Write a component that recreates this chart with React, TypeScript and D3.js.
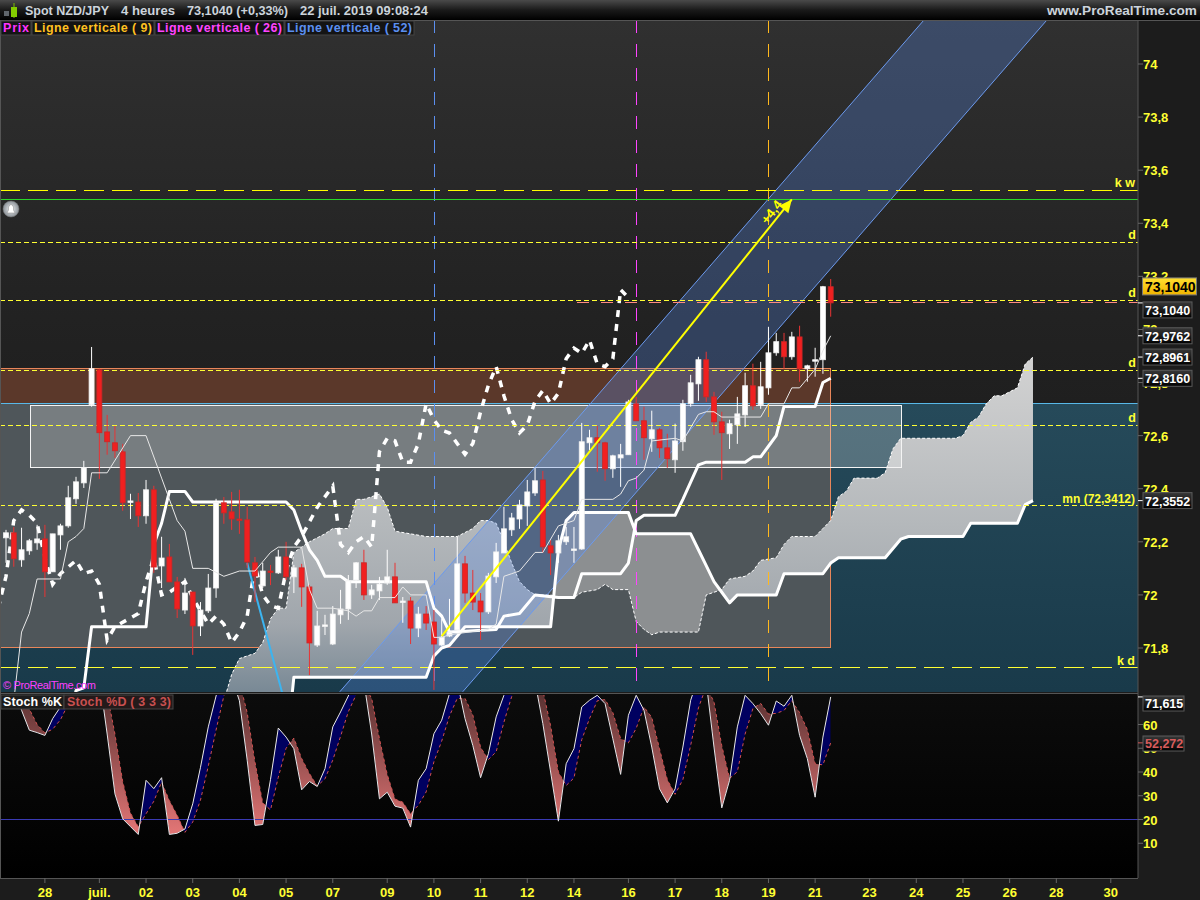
import React from "react";
import * as d3 from "d3";

// 4h candles
const highs = [72.245,72.256,72.253,72.211,72.264,72.264,72.23,72.268,72.411,72.445,72.505,72.934,72.852,72.678,72.637,72.569,72.381,72.384,72.433,72.411,72.219,72.192,72.068,72.064,72.011,71.973,72.079,72.362,72.369,72.388,72.396,72.332,72.143,72.121,72.113,72.17,72.2,72.113,72.117,72.038,71.94,71.925,71.958,72.019,72.075,72.124,72.17,72.038,72.068,72.17,72.121,71.992,71.992,71.955,71.958,71.943,71.909,71.985,72.219,72.147,72.094,72.007,72.083,72.196,72.332,72.309,72.358,72.433,72.479,72.467,72.207,72.226,72.256,72.256,72.648,72.622,72.637,72.577,72.528,72.569,72.735,72.746,72.709,72.694,72.629,72.607,72.645,72.735,72.829,72.897,72.916,72.765,72.69,72.66,72.746,72.837,72.871,72.878,73.01,72.987,72.987,72.991,73.014,72.867,72.931,73.164,73.19];
const lows = [72.121,72.106,72.106,72.151,72.17,71.992,72.087,72.17,72.253,72.343,72.403,72.709,72.437,72.528,72.516,72.317,72.286,72.256,72.268,72.083,72.026,72.049,71.913,71.928,71.774,71.845,71.932,71.989,72.268,72.245,72.23,72.102,71.973,72.026,72.037,72.079,72.056,72.007,71.955,71.698,71.804,71.849,71.811,71.891,71.906,72.026,71.981,71.985,71.981,72.038,71.97,71.895,71.815,71.841,71.868,71.642,71.808,71.841,71.86,71.97,71.943,71.83,71.928,72.045,72.158,72.222,72.249,72.26,72.373,72.158,72.075,72.121,72.188,72.121,72.17,72.546,72.464,72.43,72.441,72.407,72.528,72.656,72.509,72.539,72.516,72.479,72.46,72.543,72.709,72.731,72.727,72.603,72.433,72.55,72.569,72.633,72.697,72.701,72.754,72.901,72.852,72.886,72.803,72.803,72.822,72.833,73.048];
const opens = [72.215,72.234,72.132,72.166,72.196,72.211,72.087,72.226,72.26,72.362,72.422,72.716,72.848,72.614,72.573,72.539,72.35,72.35,72.298,72.396,72.109,72.143,72.049,71.943,72.011,71.883,71.94,72.026,72.347,72.313,72.286,72.283,72.121,72.034,72.09,72.083,72.143,72.068,72.102,72.03,71.811,71.883,71.815,71.925,71.947,72.056,72.121,72,72.015,72.045,72.068,71.973,71.977,71.875,71.928,71.898,71.811,71.845,71.868,72.117,72.007,71.977,71.936,72.068,72.158,72.245,72.286,72.335,72.384,72.433,72.185,72.158,72.2,72.17,72.173,72.573,72.592,72.573,72.475,72.516,72.528,72.72,72.656,72.588,72.622,72.554,72.509,72.577,72.72,72.795,72.886,72.746,72.652,72.607,72.641,72.678,72.788,72.716,72.78,72.912,72.954,72.897,72.972,72.852,72.882,72.886,73.161];
const closes = [72.234,72.136,72.17,72.204,72.211,72.087,72.23,72.26,72.366,72.426,72.479,72.852,72.611,72.577,72.543,72.347,72.354,72.298,72.396,72.105,72.139,72.049,71.947,72.007,71.883,71.943,72.026,72.347,72.309,72.286,72.283,72.124,72.071,72.09,72.087,72.143,72.068,72.102,72.03,71.819,71.883,71.887,71.928,71.947,72.053,72.121,72,72.019,72.041,72.068,71.97,71.977,71.875,71.928,71.894,71.815,71.841,71.86,72.117,72.007,71.973,71.936,72.071,72.162,72.249,72.29,72.339,72.388,72.43,72.181,72.158,72.204,72.219,72.173,72.577,72.592,72.573,72.475,72.524,72.528,72.727,72.656,72.592,72.622,72.554,72.513,72.58,72.72,72.799,72.886,72.746,72.652,72.611,72.645,72.682,72.788,72.712,72.784,72.912,72.954,72.897,72.972,72.852,72.863,72.886,73.161,73.1];

// ichimoku lines as [bar, price] vertices
const tenkan: [number, number][] = [[1,71.6],[2,71.86],[3,71.93],[4,72.06],[7,72.06],[8,72.2],[9,72.22],[10,72.25],[11,72.46],[13,72.46],[16,72.6],[18,72.6],[20,72.44],[22,72.28],[23,72.24],[24,72.1],[26,72.1],[28,72.07],[30,72.09],[32,72.09],[34,72.16],[35,72.18],[37,72.18],[38,72.18],[39,72.02],[40,71.95],[42,71.95],[44,71.94],[45,71.92],[46,71.94],[47,71.94],[48,71.99],[50,71.99],[51,72.03],[52,72],[54,72],[55,71.84],[56,71.84],[57,71.85],[62,71.87],[63,71.89],[64,72.07],[65,72.08],[66,72.09],[68,72.16],[69,72.16],[71,72.26],[73,72.28],[74,72.36],[78,72.36],[79,72.38],[80,72.43],[81,72.44],[82,72.47],[83,72.58],[86,72.59],[87,72.58],[89,72.68],[90,72.69],[91,72.69],[92,72.67],[97,72.67],[98,72.72],[100,72.72],[101,72.78],[102,72.78],[104,72.85],[105,72.92],[106,72.976]];
const kijun: [number, number][] = [[8,71.5],[9,71.64],[10,71.65],[11,71.88],[18,71.88],[19,72.19],[20,72.27],[21,72.39],[23,72.39],[24,72.35],[36,72.35],[37,72.32],[38,72.24],[39,72.17],[40,72.13],[41,72.07],[43,72.07],[44,72.05],[54,72.05],[55,71.95],[56,71.92],[57,71.86],[63,71.87],[64,71.92],[66,71.93],[68,72],[71,71.99],[73,71.99],[74,72.08],[79,72.08],[80,72.12],[81,72.28],[82,72.3],[86,72.3],[87,72.36],[89,72.49],[90,72.5],[95,72.5],[96,72.52],[97,72.52],[98,72.56],[99,72.6],[100,72.71],[104,72.71],[105,72.8],[106,72.816]];
const senkouA: [number, number][] = [[28,71.6],[29,71.7],[30,71.76],[32,71.78],[33,71.82],[34,71.91],[35,71.95],[36,71.95],[37,72.16],[38,72.18],[39,72.2],[41,72.23],[42,72.25],[44,72.25],[45,72.36],[46,72.36],[47,72.37],[48,72.38],[49,72.33],[50,72.24],[52,72.23],[54,72.22],[58,72.22],[60,72.25],[61,72.28],[62,72.28],[63,72.27],[64,72.2],[65,72.12],[66,72.05],[67,72.02],[68,72],[70,72],[71,71.99],[73,71.99],[74,72.01],[76,72.02],[77,72.04],[78,72.02],[80,72.02],[81,71.9],[82,71.87],[83,71.85],[84,71.86],[89,71.86],[90,72],[91,72.01],[92,72.02],[93,72.06],[95,72.07],[96,72.09],[97,72.13],[99,72.14],[100,72.19],[101,72.22],[104,72.22],[105,72.25],[106,72.28],[107,72.37],[108,72.39],[109,72.44],[112,72.44],[113,72.46],[114,72.55],[115,72.59],[122,72.59],[123,72.6],[124,72.65],[125,72.67],[126,72.72],[127,72.75],[128,72.75],[130,72.78],[131,72.87],[132,72.896]];
const senkouB: [number, number][] = [[28,71.3],[36,71.4],[37,71.69],[54,71.69],[55,71.77],[56,71.8],[57,71.81],[59,71.88],[70,71.88],[71,72.17],[72,72.28],[73,72.31],[80,72.31],[81,72.23],[88,72.23],[89,72.17],[90,72.11],[91,72.05],[92,72.01],[93,71.97],[94,72],[99,72],[100,72.08],[105,72.08],[106,72.12],[107,72.14],[113,72.14],[115,72.21],[116,72.22],[123,72.22],[124,72.27],[130,72.27],[131,72.34],[132,72.355]];
const chikou: [number, number][] = [[-1,71.95],[0,72.07],[1,72.28],[2,72.32],[3,72.3],[4,72.27],[5,72.14],[6,72.04],[7,72.08],[9,72.13],[10,72.08],[11,72.09],[12,72.04],[13,71.83],[14,71.88],[17,71.93],[18,72.05],[19,72.14],[20,72],[21,72.01],[23,72.05],[24,71.99],[26,71.89],[27,71.92],[28,71.89],[29,71.82],[30,71.86],[31,71.92],[32,72.11],[33,72],[34,71.96],[35,71.95],[36,72.09],[37,72.18],[38,72.22],[40,72.33],[42,72.41],[43,72.19],[44,72.16],[45,72.2],[46,72.22],[47,72.18],[48,72.54],[49,72.59],[50,72.58],[51,72.5],[52,72.5],[53,72.57],[54,72.72],[55,72.66],[56,72.62],[57,72.61],[59,72.53],[60,72.57],[61,72.69],[62,72.79],[63,72.86],[64,72.75],[65,72.66],[66,72.61],[67,72.64],[68,72.73],[69,72.77],[70,72.72],[71,72.76],[72,72.89],[73,72.93],[74,72.91],[75,72.96],[76,72.87],[77,72.86],[78,72.89],[79,73.15],[80,73.12]];

// drawn objects, in bar/price
const trendBlue: [number, number][] = [[31,72.12],[35.6,71.62]];
const channelUpper: [number, number][] = [[42.9,71.635],[118,74.166]];
const channelLower: [number, number][] = [[58.7,71.635],[133.8,74.166]];
const arrow: [number, number][] = [[56,71.845],[101,73.49]];
const vLines = [{ bar: 55, color: "#5b8ff0" }, { bar: 81, color: "#ff44ff" }, { bar: 98, color: "#ffb81c" }];
const dLevels = [73.3276, 73.1091, 72.8454, 72.6382];
const mnLevel = 72.3368;
const kwLevel = 73.5235;
const kdLevel = 71.7265;
const greenLevel = 73.4895;
const priceLine = 73.1015;
const brownTop = 72.853;
const tealTop = 72.7211;
const boxBottom = 71.802;
const whiteTop = 72.7135;
const whiteBottom = 72.48;

// stochastic panel, one value per bar
const stochK = [80,76,66,57.6,56.6,55.4,62.5,67.4,76,78,80,82,80,56,30.8,20.3,17,13.7,36.5,33,37.6,13.7,14.2,16,26.6,42,59,72,85,80,70,45,17.5,17.9,36.9,58.5,54.7,49.8,32.5,36,33.9,41.4,59,65.3,72,80,78,56,28.7,31.5,25.6,24.8,16.8,36.5,41.4,56.1,61.8,73,78,62.5,51.2,37.6,47.7,63.2,72.3,80,85,85,78,60.4,40,19.3,43.5,49.8,67.4,70.2,72.3,68.8,54,39,63.9,72.3,66,50.5,32.9,27,32.9,50.5,70.2,80,78,50.5,24.9,36.5,59,72.3,68.8,64.6,59.7,69.9,67.7,72.3,55.4,45.6,29.4,54.7,71.615];
const stochD = [78,78,74,66.5,60,56.5,58,62,68.6,73.8,78,80,81,73,56,36,22.7,17,22.4,27.7,35.7,28,21.8,14.6,18.9,28.2,42.5,57.7,72,79,78,65,44.2,27,24,37.8,50,54.3,45.7,39.4,34.1,37.1,45,55,65.4,72.5,76.7,71,54,39,28.6,27.3,22.4,26,31.6,44.3,53,63.6,71,71,64,50.4,45.2,48.5,61,71.8,79,83,82.7,74.5,59.5,40,34.3,37.5,53.6,62.5,70,70.5,65,54,52.3,58.4,67.4,63,49.8,36.8,30.6,36.8,51.2,67,76,69.5,51.1,37.3,40.1,56,66.7,68.9,64.4,64.7,65.9,70,65,57.8,43.5,43,52.272];

const priceTicks = [74,73.8,73.6,73.4,73.2,73,72.8,72.6,72.4,72.2,72,71.8];
const stochTicks = [60,50,40,30,20,10];
const dateTicks: [number, string][] = [[5,"28"],[12,"juil."],[18,"02"],[24,"03"],[30,"04"],[36,"05"],[42,"07"],[49,"09"],[55,"10"],[61,"11"],[67,"12"],[73,"14"],[80,"16"],[86,"17"],[92,"18"],[98,"19"],[104,"21"],[111,"23"],[117,"24"],[123,"25"],[129,"26"],[135,"28"],[142,"30"]];
const priceBoxes: [number, string, number][] = [[73.1,"73,1040",7],[72.9762,"72,9762",0],[72.8961,"72,8961",0],[72.816,"72,8160",0],[72.3552,"72,3552",0]];

const W = 1200;
const panelR = 1138;
const top = 20;
const bottom = 692;
const sTop = 695;
const sBottom = 878;

const x = d3.scaleLinear().domain([0, 106]).range([6, 830.7]);
const y = d3.scaleLinear().domain([74, 71.8]).range([64, 648]);
const ys = d3.scaleLinear().domain([60, 20]).range([724.5, 819.5]);

const FONT = "'Liberation Sans', Arial, sans-serif";
const YEL = "#ffff33";

const pline = d3.line<[number, number]>().x((d) => x(d[0])).y((d) => y(d[1]));
const comma = (v: number) => String(v).replace(".", ",");

const bars = d3.range(stochK.length);
const kLine = d3.line<number>().x((i) => x(i)).y((i) => ys(stochK[i]));
const dLine = d3.line<number>().x((i) => x(i)).y((i) => ys(stochD[i]));
const kdArea = d3.area<number>().x((i) => x(i)).y0((i) => ys(stochK[i])).y1((i) => ys(stochD[i]));
const aboveK = d3.area<number>().x((i) => x(i)).y0((i) => ys(stochK[i])).y1(0);
const belowK = d3.area<number>().x((i) => x(i)).y0((i) => ys(stochK[i])).y1(900);
// the cloud is darker where span A runs under span B
const aboveA = d3.area<[number, number]>().x((d) => x(d[0])).y0((d) => y(d[1])).y1(0);

const cloudPath = pline([...senkouA, ...[...senkouB].reverse()]) + "Z";
const channelPath = pline([channelUpper[0], channelUpper[1], channelLower[1], channelLower[0]]) + "Z";

const ax = x(arrow[1][0]);
const ay = y(arrow[1][1]);
const ang = Math.atan2(y(arrow[1][1]) - y(arrow[0][1]), x(arrow[1][0]) - x(arrow[0][0]));
const arrowHead = d3.range(3).map((k) => {
  const back = k === 1 ? 0 : 13;
  const side = k === 0 ? 6 : k === 2 ? -6 : 0;
  return [ax - back * Math.cos(ang) - side * Math.sin(ang), ay - back * Math.sin(ang) + side * Math.cos(ang)].join(",");
}).join(" ");

const App = () => {
  return (
    <svg width={W} height={900} style={{ position: "absolute", left: 0, top: 0, display: "block" }} fontFamily={FONT}>
      <style>{`body{margin:0;background:#1c1c1c}`}</style>
      <defs>
        <linearGradient id="bg" x1="0" y1="0" x2="0" y2="1">
          <stop offset="0" stopColor="#303030" />
          <stop offset="0.4" stopColor="#232323" />
          <stop offset="0.7" stopColor="#1c1c1c" />
          <stop offset="1" stopColor="#1c1c1c" />
        </linearGradient>
        <linearGradient id="head" x1="0" y1="0" x2="0" y2="1">
          <stop offset="0" stopColor="#4a4a4a" />
          <stop offset="0.5" stopColor="#1a1a1a" />
          <stop offset="1" stopColor="#000" />
        </linearGradient>
        <linearGradient id="teal" x1="0" y1="0" x2="0" y2="1">
          <stop offset="0" stopColor="#264a5a" />
          <stop offset="1" stopColor="#193a4a" />
        </linearGradient>
        <linearGradient id="cloud" gradientUnits="userSpaceOnUse" x1="0" y1="360" x2="0" y2="690">
          <stop offset="0" stopColor="#d2d2d2" />
          <stop offset="0.5" stopColor="#b4b8bb" />
          <stop offset="0.8" stopColor="#a0a6ac" />
          <stop offset="1" stopColor="#7a8a96" />
        </linearGradient>
        <linearGradient id="redfill" gradientUnits="userSpaceOnUse" x1="0" y1="695" x2="0" y2="830">
          <stop offset="0" stopColor="#5a3232" />
          <stop offset="1" stopColor="#e07474" />
        </linearGradient>
        <linearGradient id="yellowbox" x1="0" y1="0" x2="0" y2="1">
          <stop offset="0" stopColor="#ffe030" />
          <stop offset="1" stopColor="#f0b400" />
        </linearGradient>
        <linearGradient id="darkbox" x1="0" y1="0" x2="0" y2="1">
          <stop offset="0" stopColor="#383838" />
          <stop offset="1" stopColor="#000" />
        </linearGradient>
        <linearGradient id="stochbg" x1="0" y1="0" x2="0" y2="1">
          <stop offset="0" stopColor="#0c0c0c" />
          <stop offset="1" stopColor="#000" />
        </linearGradient>
        <radialGradient id="bell">
          <stop offset="0" stopColor="#f2f4f6" />
          <stop offset="1" stopColor="#8a9096" />
        </radialGradient>
        <clipPath id="main"><rect x={0} y={top} width={panelR} height={bottom - top} /></clipPath>
        <clipPath id="stoch"><rect x={0} y={sTop} width={panelR} height={sBottom - sTop} /></clipPath>
        <clipPath id="aboveK"><path d={aboveK(bars) ?? ""} /></clipPath>
        <clipPath id="belowK"><path d={belowK(bars) ?? ""} /></clipPath>
        <clipPath id="aboveA"><path d={aboveA(senkouA) ?? ""} /></clipPath>
      </defs>

      <rect width={W} height={900} fill="#1c1c1c" />

      {/* price panel */}
      <g clipPath="url(#main)">
        <rect x={0} y={top} width={panelR} height={bottom - top} fill="url(#bg)" />
        <rect x={0} y={y(tealTop)} width={panelR} height={bottom - y(tealTop)} fill="url(#teal)" />
        <rect x={0} y={y(brownTop)} width={x(106)} height={y(tealTop) - y(brownTop)} fill="#5b382a" />
        <rect x={0} y={y(tealTop)} width={x(106)} height={y(boxBottom) - y(tealTop)} fill="#4f565a" />
        <line x1={0} x2={panelR} y1={y(tealTop)} y2={y(tealTop)} stroke="#58b8e8" strokeWidth={1} shapeRendering="crispEdges" />
        <path d={`M0,${y(brownTop)}H${x(106)}V${y(boxBottom)}H0`} fill="none" stroke="#e8865a" strokeWidth={1} shapeRendering="crispEdges" />

        <path d={cloudPath} fill="url(#cloud)" />
        <path d={cloudPath} fill="#8c8f91" clipPath="url(#aboveA)" />
        <path d={pline(senkouA) ?? ""} fill="none" stroke="#fff" strokeWidth={1} strokeDasharray="3 2" />

        <rect x={30} y={y(whiteTop)} width={871} height={y(whiteBottom) - y(whiteTop)} fill="#fff" fillOpacity={0.23} stroke="#f4f4f4" strokeWidth={1} shapeRendering="crispEdges" />

        <path d={channelPath} fill="#5a8ae8" fillOpacity={0.3} />
        <path d={pline(channelUpper) ?? ""} stroke="#6c9aee" strokeWidth={1} fill="none" />
        <path d={pline(channelLower) ?? ""} stroke="#6c9aee" strokeWidth={1} fill="none" />

        {vLines.map((v) => (
          <line key={v.bar} x1={x(v.bar) + 0.5} x2={x(v.bar) + 0.5} y1={top} y2={bottom} stroke={v.color} strokeWidth={1} strokeDasharray="12.5 11.5" shapeRendering="crispEdges" />
        ))}

        <line x1={0} x2={panelR} y1={y(kwLevel)} y2={y(kwLevel)} stroke="#ffff00" strokeDasharray="20 8" shapeRendering="crispEdges" />
        <line x1={0} x2={panelR} y1={y(greenLevel)} y2={y(greenLevel)} stroke="#28d828" shapeRendering="crispEdges" />
        <line x1={0} x2={panelR} y1={y(kdLevel)} y2={y(kdLevel)} stroke="#ffff33" strokeDasharray="20 8" shapeRendering="crispEdges" />
        <line x1={x(73.4)} x2={panelR} y1={y(priceLine)} y2={y(priceLine)} stroke="#ff8a80" strokeDasharray="12 12" shapeRendering="crispEdges" />

        <path d={pline(senkouB) ?? ""} fill="none" stroke="#fff" strokeWidth={3} strokeLinejoin="round" />
        <path d={pline(kijun) ?? ""} fill="none" stroke="#fff" strokeWidth={3} strokeLinejoin="round" />
        <path d={pline(chikou) ?? ""} fill="none" stroke="#fff" strokeWidth={3.5} strokeDasharray="7 7" />
        <path d={pline(trendBlue) ?? ""} fill="none" stroke="#3cb4f0" strokeWidth={2} />

        {[...dLevels, mnLevel].map((l) => (
          <line key={l} x1={0} x2={panelR} y1={y(l)} y2={y(l)} stroke="#ffff33" strokeDasharray="5 3" shapeRendering="crispEdges" />
        ))}

        {/* candles */}
        {closes.map((c, i) => {
          const up = c >= opens[i];
          const t = y(Math.max(c, opens[i]));
          const b = y(Math.min(c, opens[i]));
          return (
            <g key={i}>
              <line x1={x(i)} x2={x(i)} y1={y(highs[i])} y2={y(lows[i])} stroke={up ? "#fff" : "#e83434"} />
              <rect x={x(i) - 2.5} y={t} width={5} height={Math.max(b - t, 1.5)} fill={up ? "#fff" : "#f02020"} stroke={up ? "#f0f0f0" : "#c82828"} strokeWidth={0.8} />
            </g>
          );
        })}

        <path d={pline(tenkan) ?? ""} fill="none" stroke="#e8e8e8" strokeWidth={1} />

        <path d={pline(arrow) ?? ""} fill="none" stroke="#ffff00" strokeWidth={2} />
        <polygon points={arrowHead} fill="#ffff00" />
        <text x={x(98.5)} y={y(73.44)} fill="#ffff00" fontWeight={700} fontSize={13} textAnchor="middle" dominantBaseline="middle" transform={`rotate(-52 ${x(98.5)} ${y(73.44)})`}>+4,4</text>

        {/* level labels */}
        {dLevels.map((l) => (
          <text key={l} x={1132} y={y(l) - 3} fill={YEL} fontWeight={700} fontSize={12.5} textAnchor="middle">d</text>
        ))}
        <text x={1135} y={y(kwLevel) - 3} fill={YEL} fontWeight={700} fontSize={12.5} textAnchor="end">k w</text>
        <text x={1135} y={y(kdLevel) - 3} fill={YEL} fontWeight={700} fontSize={12.5} textAnchor="end">k d</text>
        <text x={1135} y={y(mnLevel) - 3} fill={YEL} fontWeight={700} fontSize={12} textAnchor="end">mn (72,3412)</text>

        <text x={3} y={689} fill="#ff40ff" fontSize={11} textLength={93}>© ProRealTime.com</text>
        <circle cx={11} cy={209} r={8} fill="url(#bell)" stroke="#777" strokeWidth={0.5} />
        <path d="M7,213 L8.5,210 L8.5,207 Q11,202 13.5,207 L13.5,210 L15,213 Z" fill="#fff" stroke="#999" strokeWidth={0.6} />
      </g>

      {/* stochastic panel */}
      <rect x={0} y={sTop - 2} width={panelR} height={sBottom - sTop + 2} fill="url(#stochbg)" />
      <g clipPath="url(#stoch)">
        <path d={kdArea(bars) ?? ""} fill="url(#redfill)" clipPath="url(#aboveK)" />
        <path d={kdArea(bars) ?? ""} fill="#000060" clipPath="url(#belowK)" />
        <line x1={0} x2={panelR} y1={ys(20)} y2={ys(20)} stroke="#3a3ab4" shapeRendering="crispEdges" />
        <path d={dLine(bars) ?? ""} fill="none" stroke="#d05050" strokeDasharray="3 3" />
        <path d={kLine(bars) ?? ""} fill="none" stroke="#e8e8e8" />
      </g>

      {/* frame */}
      <line x1={0} x2={panelR} y1={693.5} y2={693.5} stroke="#555" />
      <line x1={0} x2={panelR} y1={sBottom + 0.5} y2={sBottom + 0.5} stroke="#555" />
      <line x1={0.5} x2={0.5} y1={top} y2={sBottom} stroke="#555" />
      <line x1={panelR} x2={panelR} y1={top} y2={sBottom} stroke="#555" />

      {/* axes */}
      {priceTicks.map((t) => (
        <g key={t}>
          <line x1={panelR} x2={panelR + 5} y1={y(t)} y2={y(t)} stroke="#666" />
          <text x={1143} y={y(t) + 5} fill={YEL} fontWeight={700} fontSize={13}>{comma(t)}</text>
        </g>
      ))}
      {stochTicks.map((t) => (
        <g key={t}>
          <line x1={panelR} x2={panelR + 5} y1={ys(t)} y2={ys(t)} stroke="#666" />
          <text x={1143} y={ys(t) + 5} fill={YEL} fontWeight={700} fontSize={13}>{t}</text>
        </g>
      ))}
      {dateTicks.map(([b, label]) => (
        <g key={b}>
          <line x1={x(b)} x2={x(b)} y1={sBottom} y2={sBottom + 5} stroke="#666" />
          <text x={x(b)} y={897} fill={YEL} fontWeight={700} fontSize={13} textAnchor="middle">{label}</text>
        </g>
      ))}

      {/* value boxes */}
      <rect x={1142.5} y={y(73.1) - 25} width={54} height={17} fill="url(#yellowbox)" stroke="#777" />
      <text x={1145} y={y(73.1) - 11} fill="#000" fontWeight={700} fontSize={14}>73,1040</text>
      {priceBoxes.map(([p, label, shift]) => (
        <g key={label}>
          <line x1={panelR} x2={1143} y1={y(p)} y2={y(p)} stroke="#fff" />
          <rect x={1143} y={y(p) - 8 + shift} width={49} height={16} fill="url(#darkbox)" stroke="#5a5a5a" />
          <text x={1145} y={y(p) + 5 + shift} fill="#fff" fontWeight={700} fontSize={12.5}>{label}</text>
        </g>
      ))}
      <line x1={panelR} x2={1143} y1={ys(71.615)} y2={ys(71.615)} stroke="#fff" />
      <rect x={1143} y={696} width={41} height={15} fill="url(#darkbox)" stroke="#5a5a5a" />
      <text x={1145} y={708} fill="#fff" fontWeight={700} fontSize={12.5}>71,615</text>
      <line x1={panelR} x2={1143} y1={ys(52.272)} y2={ys(52.272)} stroke="#d05858" />
      <rect x={1143} y={736} width={41} height={15} fill="url(#darkbox)" stroke="#5a5a5a" />
      <text x={1145} y={748} fill="#d85c5c" fontWeight={700} fontSize={12.5}>52,272</text>

      {/* header */}
      <rect x={0} y={0} width={W} height={20} fill="url(#head)" />
      <line x1={0} x2={W} y1={20.5} y2={20.5} stroke="#555" />
      <rect x={4} y={11} width={5} height={5} fill="#60666c" />
      <line x1={14} x2={14} y1={3} y2={18} stroke="#7ac000" />
      <rect x={11} y={7} width={6} height={10} fill="#84cc00" />
      <g fill="#ccd4dc" fontWeight={700} fontSize={12.5}>
        <text x={25} y={15} textLength={84} lengthAdjust="spacingAndGlyphs">Spot NZD/JPY</text>
        <text x={121} y={15} textLength={54} lengthAdjust="spacingAndGlyphs">4 heures</text>
        <text x={187} y={15} textLength={101} lengthAdjust="spacingAndGlyphs">73,1040 (+0,33%)</text>
        <text x={300} y={15} textLength={128} lengthAdjust="spacingAndGlyphs">22 juil. 2019 09:08:24</text>
        <text x={1047} y={15} textLength={150} lengthAdjust="spacingAndGlyphs">www.ProRealTime.com</text>
      </g>

      {/* legends */}
      <g fontWeight={700} fontSize={12.5}>
        <rect x={1} y={21} width={30} height={14} fill="#141414" stroke="#444" />
        <rect x={32} y={21} width={122} height={14} fill="#141414" stroke="#444" />
        <rect x={155} y={21} width={129} height={14} fill="#141414" stroke="#444" />
        <rect x={285} y={21} width={129} height={14} fill="#141414" stroke="#444" />
        <text x={3} y={32} fill="#ff33ff" textLength={26}>Prix</text>
        <text x={34} y={32} fill="#ffc020" textLength={118}>Ligne verticale ( 9)</text>
        <text x={157} y={32} fill="#ff44ff" textLength={125}>Ligne verticale ( 26)</text>
        <text x={287} y={32} fill="#5b8ff0" textLength={125}>Ligne verticale ( 52)</text>
        <rect x={1} y={695} width={63} height={14} fill="#1c1c1c" stroke="#444" />
        <rect x={64} y={695} width={109} height={14} fill="#241a1a" stroke="#444" />
        <text x={3} y={706} fill="#fff" textLength={59}>Stoch %K</text>
        <text x={67} y={706} fill="#c85050" textLength={104}>Stoch %D ( 3 3 3)</text>
      </g>
    </svg>
  );
};

App.displayName = "App";
export default App;
